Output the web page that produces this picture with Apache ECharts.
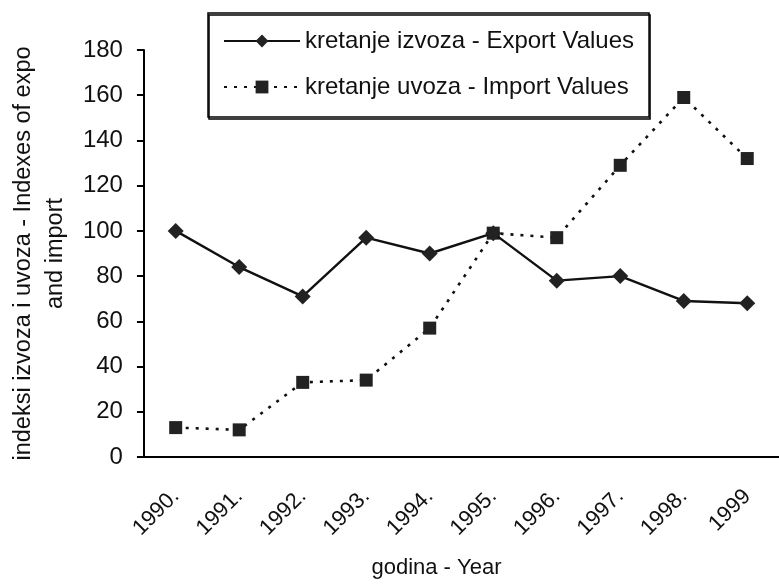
<!DOCTYPE html>
<html>
<head>
<meta charset="utf-8">
<script src="https://cdn.jsdelivr.net/npm/echarts@6/dist/echarts.min.js"></script>
<style>
  html, body { margin: 0; padding: 0; background: #fff; }
  #chart { width: 779px; height: 584px; }
</style>
</head>
<body>
<div id="chart"></div>
<script>
const years = ['1990.', '1991.', '1992.', '1993.', '1994.', '1995.', '1996.', '1997.', '1998.', '1999'];
const exportValues = [100, 84, 71, 97, 90, 99, 78, 80, 69, 68];
const importValues = [13, 12, 33, 34, 57, 99, 97, 129, 159, 132];
const yTicks = { min: 0, max: 180, interval: 20 };

const font = 'Liberation Sans, Arial, sans-serif';
const ink = '#111';

const chart = echarts.init(document.getElementById('chart'));

const option = {
  backgroundColor: '#fff',
  animation: false,
  grid: {
    left: 136,
    top: 50,
    width: 650,
    height: 423,
  },
  legend: {
    orient: 'vertical',
    left: 208,
    top: 13,
    padding: [16, 15, 18, 15],
    itemGap: 22,
    itemWidth: 76,
    itemHeight: 16,
    borderColor: '#000',
    borderWidth: 1.5,
    shadowColor: '#000',
    shadowOffsetX: 1,
    shadowOffsetY: 2,
    textStyle: { fontFamily: font, fontSize: 24, color: ink, lineHeight: 20 },
    data: ['kretanje izvoza - Export Values', 'kretanje uvoza - Import Values'],
  },
  xAxis: {
    type: 'category',
    data: years,
    boundaryGap: true,
    name: 'godina - Year',
    nameLocation: 'middle',
    nameGap: 100,
    nameTextStyle: { fontFamily: font, fontSize: 22, color: ink, padding: [0, 50, 0, 0] },
    axisLine: { lineStyle: { color: '#000', width: 2 } },
    axisTick: { length: 8, lineStyle: { color: '#000', width: 2 } },
    axisLabel: {
      interval: 0,
      rotate: 45,
      margin: 36,
      fontFamily: font,
      fontSize: 22,
      color: ink,
    },
    splitLine: { show: false },
  },
  yAxis: {
    type: 'value',
    min: yTicks.min,
    max: yTicks.max,
    interval: yTicks.interval,
    name: 'indeksi izvoza i uvoza - Indexes of expo\nand import',
    nameLocation: 'middle',
    nameRotate: 90,
    nameGap: 70,
    nameTextStyle: { fontFamily: font, fontSize: 23.5, color: ink, lineHeight: 32, align: 'center' },
    axisLine: { show: true, lineStyle: { color: '#000', width: 2 } },
    axisTick: { show: true, length: 7, lineStyle: { color: '#000', width: 2 } },
    axisLabel: { margin: 21, fontFamily: font, fontSize: 24, color: ink },
    splitLine: { show: false },
  },
  series: [
    {
      name: 'kretanje izvoza - Export Values',
      type: 'line',
      data: exportValues,
      symbol: 'diamond',
      symbolSize: 16,
      itemStyle: { color: '#222' },
      lineStyle: { color: '#111', width: 2.4, type: 'solid' },
      z: 3,
    },
    {
      name: 'kretanje uvoza - Import Values',
      type: 'line',
      data: importValues,
      symbol: 'rect',
      symbolSize: 13,
      itemStyle: { color: '#222' },
      lineStyle: { color: '#111', width: 2.6, type: [3, 7] },
      z: 2,
    },
  ],
};

chart.setOption(option);
</script>
</body>
</html>
